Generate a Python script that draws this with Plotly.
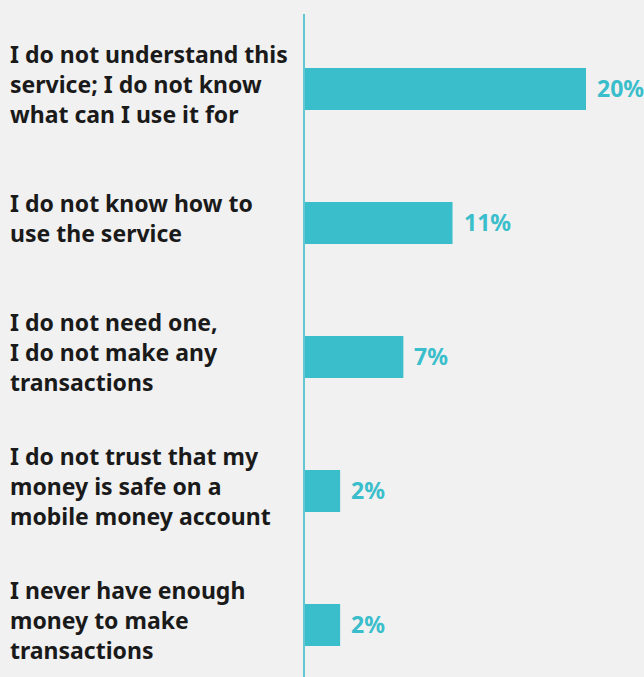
import plotly.graph_objects as go

categories = [
    "I do not understand this<br>service; I do not know<br>what can I use it for",
    "I do not know how to<br>use the service",
    "I do not need one,<br>I do not make any<br>transactions",
    "I do not trust that my<br>money is safe on a<br>mobile money account",
    "I never have enough<br>money to make<br>transactions",
]
values = [20.0, 10.5, 7.0, 2.5, 2.5]
value_labels = ["20%", "11%", "7%", "2%", "2%"]

BAR = "#3bbecb"
TEXT = "#1a1a1a"
BG = "#f1f1f1"
FONT = "Noto Sans"

fig = go.Figure()
fig.add_trace(go.Bar(
    x=values, y=list(range(len(categories))), orientation="h",
    marker=dict(color=BAR, line=dict(width=0)), width=0.313,
    hoverinfo="skip",
))

W, H = 644, 677
ml, mt = 305, 14
pw = W - ml

for i, (cat, v, lab) in enumerate(zip(categories, values, value_labels)):
    fig.add_annotation(
        x=(8 - ml) / pw, xref="paper", y=i, yref="y",
        text=cat, showarrow=False, xanchor="left", yanchor="middle", align="left",
        font=dict(family=FONT, size=23, color=TEXT, weight=700), yshift=5,
    )
    fig.add_annotation(
        x=v, xref="x", y=i, yref="y", text=lab, showarrow=False,
        xanchor="left", yanchor="middle", xshift=9, yshift=1,
        font=dict(family=FONT, size=23, color=BAR, weight=700),
    )

fig.update_layout(
    width=W, height=H, margin=dict(l=ml, r=0, t=mt, b=0),
    paper_bgcolor=BG, plot_bgcolor=BG, showlegend=False,
    xaxis=dict(range=[0, pw / 14.05], visible=False, fixedrange=True),
    yaxis=dict(range=[4 + 52 / 134, -75 / 134], showticklabels=False, showgrid=False,
               zeroline=False, showline=True, linecolor="#62c7d2", linewidth=1.5,
               ticks="", fixedrange=True),
)
fig.write_html(
    "out.html",
    config={"displayModeBar": False},
    post_script="document.body.style.margin='0';document.body.style.background='#f1f1f1';",
)
